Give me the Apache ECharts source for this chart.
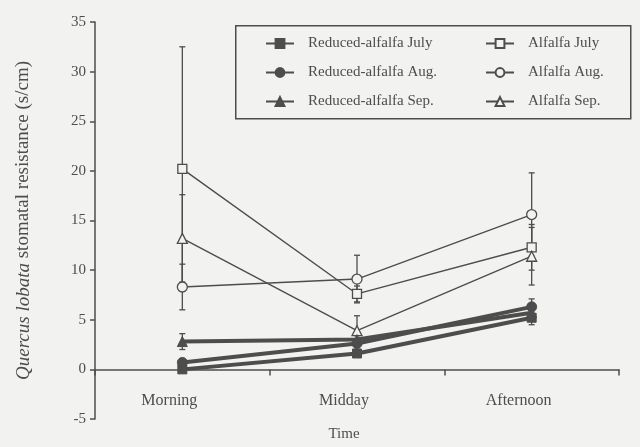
<!DOCTYPE html>
<html>
<head>
<meta charset="utf-8">
<script src="https://cdn.jsdelivr.net/npm/echarts@6/dist/echarts.min.js"></script>
<style>
  html, body { margin: 0; padding: 0; background: #f2f2f0; }
  #chart { width: 640px; height: 447px; }
</style>
</head>
<body>
<div id="chart"></div>
<script>
// Time-of-day categories
const times = ['Morning', 'Midday', 'Afternoon'];

// Stomatal resistance means (s/cm)
const reducedJuly = [0.0, 1.6, 5.2];
const reducedAug  = [0.7, 2.6, 6.3];
const reducedSep  = [2.8, 3.0, 5.7];
const alfalfaJuly = [20.2, 7.6, 12.3];
const alfalfaAug  = [8.3, 9.1, 15.6];
const alfalfaSep  = [13.2, 3.9, 11.4];

// Error bar half-widths (s/cm)
const reducedJulyErr = [0.3, 0.3, 0.7];
const reducedAugErr  = [0.3, 0.4, 0.8];
const reducedSepErr  = [0.8, 0.4, 0.6];
const alfalfaJulyErr = [12.3, 0.8, 2.3];
const alfalfaAugErr  = [2.3, 2.4, 4.2];
const alfalfaSepErr  = [4.4, 1.5, 2.9];

// Y axis ticks
const yMin = -5, yMax = 35, yStep = 5;

const ink = '#4d4d4d';
const bg = '#f2f2f0';
const serif = '"Liberation Serif", "DejaVu Serif", serif';

// Plot area
const gridTop = 22, gridBottom = 28, chartHeight = 447;
const plotHeight = chartHeight - gridTop - gridBottom;
// shift the category axis up so it sits on the zero line
const zeroOffset = -plotHeight * (0 - yMin) / (yMax - yMin);

function lineSeries(name, values, symbol, size, width, filled) {
  return {
    name: name,
    type: 'line',
    data: values,
    symbol: symbol,
    symbolSize: size,
    showSymbol: true,
    z: filled ? 4 : 3,
    lineStyle: { color: ink, width: width },
    itemStyle: filled
      ? { color: ink, borderColor: ink, borderWidth: 1 }
      : { color: bg, borderColor: ink, borderWidth: 1.3 },
    emphasis: { disabled: true },
    animation: false
  };
}

function errorSeries(values, errs) {
  return {
    type: 'custom',
    silent: true,
    z: 2,
    animation: false,
    data: values.map((v, i) => [i, v - errs[i], v + errs[i]]),
    encode: { x: 0, y: [1, 2] },
    renderItem: function (params, api) {
      const lo = api.coord([api.value(0), api.value(1)]);
      const hi = api.coord([api.value(0), api.value(2)]);
      const half = 3;
      const style = { stroke: ink, lineWidth: 1.3 };
      return {
        type: 'group',
        children: [
          { type: 'line', shape: { x1: lo[0], y1: lo[1], x2: hi[0], y2: hi[1] }, style: style },
          { type: 'line', shape: { x1: lo[0] - half, y1: lo[1], x2: lo[0] + half, y2: lo[1] }, style: style },
          { type: 'line', shape: { x1: hi[0] - half, y1: hi[1], x2: hi[0] + half, y2: hi[1] }, style: style }
        ]
      };
    }
  };
}

const chart = echarts.init(document.getElementById('chart'), null, { renderer: 'canvas' });

const legendText = { fontFamily: serif, fontSize: 15, color: ink, padding: [0, 0, 0, 9] };

chart.setOption({
  backgroundColor: bg,
  animation: false,
  grid: { left: 95, right: 21, top: gridTop, bottom: gridBottom, containLabel: false, outerBoundsMode: 'none' },
  legend: [
    {
      data: ['Reduced-alfalfa July', 'Reduced-alfalfa Aug.', 'Reduced-alfalfa Sep.'],
      orient: 'vertical', left: 265, top: 36, padding: 0,
      itemWidth: 28, itemHeight: 11, itemGap: 14,
      textStyle: legendText, selectedMode: false
    },
    {
      data: ['Alfalfa July', 'Alfalfa Aug.', 'Alfalfa Sep.'],
      orient: 'vertical', left: 485, top: 36, padding: 0,
      itemWidth: 28, itemHeight: 11, itemGap: 14,
      textStyle: legendText, selectedMode: false
    }
  ],
  graphic: [
    {
      type: 'rect', left: 235, top: 25, z: 0,
      shape: { width: 395, height: 93 },
      style: { fill: 'transparent', stroke: ink, lineWidth: 1.5 }
    }
  ],
  xAxis: {
    type: 'category',
    data: times,
    boundaryGap: true,
    position: 'bottom',
    offset: zeroOffset,
    name: 'Time',
    nameLocation: 'middle',
    nameGap: 57,
    nameTextStyle: { fontFamily: serif, fontSize: 15, color: ink, padding: [0, 26, 0, 0] },
    axisLine: { onZero: false, lineStyle: { color: ink, width: 1.5 } },
    axisTick: { show: true, length: 6, inside: false, lineStyle: { color: ink, width: 1.5 } },
    axisLabel: { fontFamily: serif, fontSize: 16, color: ink, margin: 23, padding: [0, 26, 0, 0] },
    splitLine: { show: false }
  },
  yAxis: {
    type: 'value',
    min: yMin, max: yMax, interval: yStep,
    name: '{i|Quercus lobata} stomatal resistance (s/cm)',
    nameLocation: 'middle',
    nameGap: 62,
    nameTextStyle: {
      fontFamily: serif, fontSize: 19, color: ink,
      rich: { i: { fontFamily: serif, fontSize: 19, fontStyle: 'italic', color: ink } }
    },
    axisLine: { show: true, lineStyle: { color: ink, width: 1.5 } },
    axisTick: { show: true, length: 5, lineStyle: { color: ink, width: 1.5 } },
    axisLabel: { fontFamily: serif, fontSize: 15, color: ink, margin: 9 },
    splitLine: { show: false }
  },
  series: [
    errorSeries(alfalfaJuly, alfalfaJulyErr),
    errorSeries(alfalfaAug, alfalfaAugErr),
    errorSeries(alfalfaSep, alfalfaSepErr),
    errorSeries(reducedJuly, reducedJulyErr),
    errorSeries(reducedAug, reducedAugErr),
    errorSeries(reducedSep, reducedSepErr),
    lineSeries('Alfalfa July', alfalfaJuly, 'rect', 9, 1.4, false),
    lineSeries('Alfalfa Aug.', alfalfaAug, 'circle', 10, 1.4, false),
    lineSeries('Alfalfa Sep.', alfalfaSep, 'triangle', 10, 1.4, false),
    lineSeries('Reduced-alfalfa July', reducedJuly, 'rect', 9, 4, true),
    lineSeries('Reduced-alfalfa Aug.', reducedAug, 'circle', 10, 4, true),
    lineSeries('Reduced-alfalfa Sep.', reducedSep, 'triangle', 10, 4, true)
  ]
});
</script>
</body>
</html>
